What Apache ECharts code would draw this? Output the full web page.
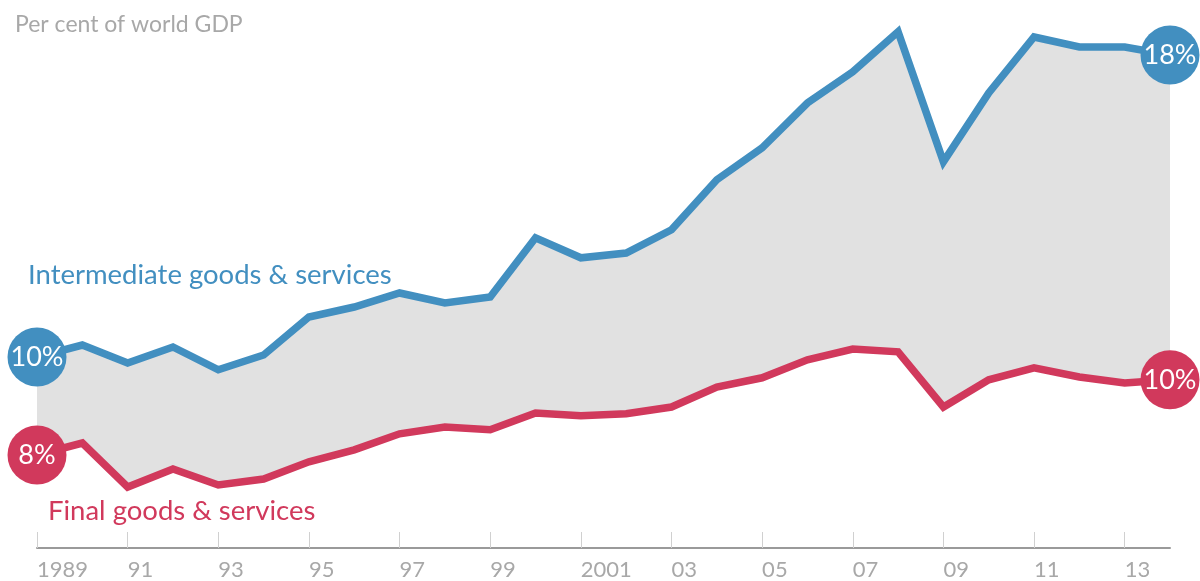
<!DOCTYPE html>
<html>
<head>
<meta charset="utf-8">
<script src="https://cdn.jsdelivr.net/npm/echarts@6/dist/echarts.min.js"></script>
<style>
  html, body { margin: 0; padding: 0; background: #fff; }
  #chart { width: 1200px; height: 581px; }
</style>
</head>
<body>
<div id="chart"></div>
<script>
  // years on the x axis
  var years = ['1989', '1990', '1991', '1992', '1993', '1994', '1995', '1996', '1997', '1998',
    '1999', '2000', '2001', '2002', '2003', '2004', '2005', '2006', '2007', '2008',
    '2009', '2010', '2011', '2012', '2013', '2014'];

  // per cent of world GDP
  var intermediate = [10.45, 10.75, 10.3, 10.7, 10.13, 10.5, 11.45, 11.7, 12.05, 11.8,
    11.95, 13.43, 12.93, 13.05, 13.63, 14.88, 15.68, 16.8, 17.58, 18.58,
    15.33, 17.05, 18.45, 18.2, 18.2, 18.0];
  var finalGoods = [8.0, 8.3, 7.2, 7.65, 7.25, 7.4, 7.83, 8.13, 8.53, 8.7,
    8.63, 9.05, 8.98, 9.03, 9.2, 9.7, 9.93, 10.38, 10.65, 10.58,
    9.2, 9.88, 10.18, 9.95, 9.8, 9.88];

  // labels in the end circles
  var intermediateEnds = ['10%', '18%'];
  var finalEnds = ['8%', '10%'];

  var blue = '#428fc0';
  var red = '#d1395c';
  var font = 'Lato';

  var gap = [];
  for (var i = 0; i < years.length; i++) {
    gap.push(intermediate[i] - finalGoods[i]);
  }

  function endPoints (vals, texts) {
    var last = vals.length - 1;
    return [
      { value: [0, vals[0]], label: { formatter: texts[0] } },
      { value: [last, vals[last]], label: { formatter: texts[1] } }
    ];
  }

  var chart = echarts.init(document.getElementById('chart'));
  var option = {
    animation: false,
    textStyle: { fontFamily: font },
    title: {
      text: 'Per cent of world GDP',
      left: 10,
      top: 8,
      textStyle: { color: '#a8a8a8', fontSize: 23, fontWeight: 'normal', fontFamily: font }
    },
    grid: { left: 37, right: 30, top: 0, bottom: 33 },
    xAxis: {
      type: 'category',
      data: years,
      boundaryGap: false,
      axisLine: { lineStyle: { color: '#9a9a9a', width: 2 } },
      axisTick: { show: true, inside: true, length: 16, interval: 1, lineStyle: { color: '#d0d0d0', width: 1 } },
      axisLabel: {
        interval: 1,
        align: 'left',
        margin: 11,
        color: '#a8a8a8',
        fontSize: 22,
        fontFamily: font,
        formatter: function (v) {
          return (v === '1989' || v === '2001') ? v : v.slice(2);
        }
      },
      splitLine: { show: false }
    },
    yAxis: {
      type: 'value',
      min: 5.675,
      max: 19.375,
      show: false
    },
    graphic: [
      {
        type: 'text', left: 28, top: 261,
        style: { text: 'Intermediate goods & services', fill: blue, fontSize: 27.5, fontFamily: font }
      },
      {
        type: 'text', left: 48, top: 497,
        style: { text: 'Final goods & services', fill: red, fontSize: 27.5, fontFamily: font }
      }
    ],
    series: [
      {
        type: 'line',
        data: finalGoods,
        stack: 'band',
        symbol: 'none',
        lineStyle: { opacity: 0 },
        silent: true
      },
      {
        type: 'line',
        data: gap,
        stack: 'band',
        symbol: 'none',
        lineStyle: { opacity: 0 },
        areaStyle: { color: '#e1e1e1', opacity: 1 },
        silent: true
      },
      {
        name: 'Intermediate goods & services',
        type: 'line',
        data: intermediate,
        symbol: 'none',
        clip: false,
        lineStyle: { color: blue, width: 7.5, join: 'miter', miterLimit: 10 }
      },
      {
        name: 'Final goods & services',
        type: 'line',
        data: finalGoods,
        symbol: 'none',
        clip: false,
        lineStyle: { color: red, width: 7.5, join: 'miter', miterLimit: 10 }
      },
      {
        type: 'scatter',
        data: endPoints(intermediate, intermediateEnds),
        symbolSize: 59,
        clip: false,
        z: 10,
        itemStyle: { color: blue, opacity: 1 },
        label: { show: true, position: 'inside', color: '#fff', fontSize: 27, fontFamily: font }
      },
      {
        type: 'scatter',
        data: endPoints(finalGoods, finalEnds),
        symbolSize: 59,
        clip: false,
        z: 10,
        itemStyle: { color: red, opacity: 1 },
        label: { show: true, position: 'inside', color: '#fff', fontSize: 27, fontFamily: font }
      }
    ]
  };
  chart.setOption(option);
</script>
</body>
</html>
